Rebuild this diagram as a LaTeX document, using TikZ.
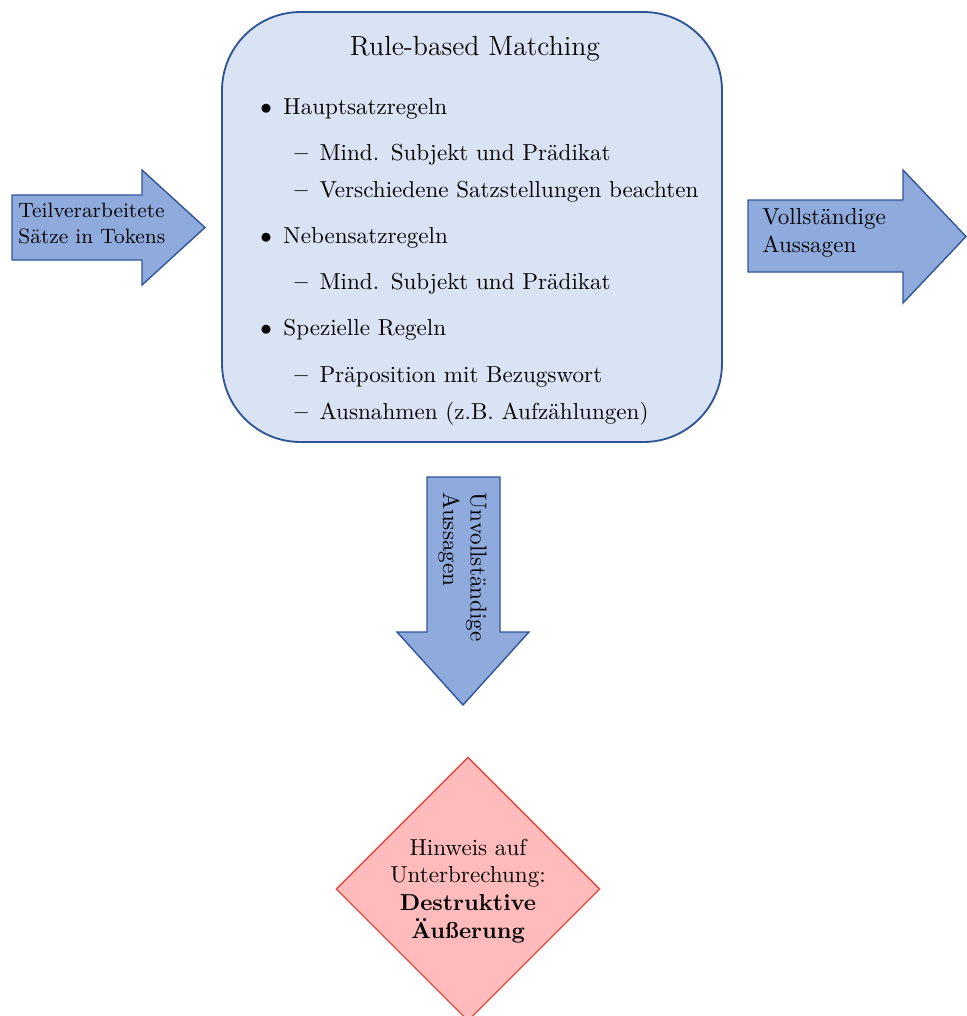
\documentclass[tikz,border=0pt]{standalone}
\usepackage{enumitem}
\usetikzlibrary{shapes.geometric}

\definecolor{boxfill}{RGB}{218,227,243}
\definecolor{boxline}{RGB}{47,85,151}
\definecolor{arrowfill}{RGB}{143,170,220}
\definecolor{arrowline}{RGB}{47,85,151}
\definecolor{warnfill}{RGB}{255,187,187}
\definecolor{warnline}{RGB}{222,75,65}

% list spacing inside the matching box
\setlist[itemize,1]{topsep=0pt,partopsep=0pt,parsep=0pt,itemsep=8pt,leftmargin=25pt,
  labelsep=5pt,label=$\bullet$}
\setlist[itemize,2]{topsep=8pt,partopsep=0pt,parsep=0pt,itemsep=4pt,leftmargin=15.6pt,
  labelsep=5pt,label=\normalfont\bfseries\textendash}

\tikzset{
  mainbox/.style={draw=boxline, fill=boxfill, line width=0.8pt,
    rounded corners=34pt, inner sep=0pt},
  flowarrow/.style={draw=arrowline, fill=arrowfill, line width=0.6pt, line join=miter},
  arrowtext/.style={inner sep=0pt, align=left},
  warnbox/.style={draw=warnline, fill=warnfill, line width=0.6pt,
    shape=diamond, aspect=1, inner sep=0pt},
}

\begin{document}
\begin{tikzpicture}[x=0.4329pt, y=-0.4329pt]
\useasboundingbox (0,0) rectangle (966,1016);

% central processing box
\node[mainbox, minimum width=216.45pt, minimum height=186.15pt] (rbm) at (472,227) {};
\node[anchor=base, inner sep=0pt] (title) at (475,55) {\large Rule-based Matching};
\node[anchor=north west, inner sep=0pt, text width=212pt] (rules) at (225.25,86) {%
\begin{itemize}
  \item Hauptsatzregeln
  \begin{itemize}
    \item Mind. Subjekt und Prädikat
    \item Verschiedene Satzstellungen beachten
  \end{itemize}
  \item Nebensatzregeln
  \begin{itemize}
    \item Mind. Subjekt und Prädikat
  \end{itemize}
  \item Spezielle Regeln
  \begin{itemize}
    \item Präposition mit Bezugswort
    \item Ausnahmen (z.B. Aufzählungen)
  \end{itemize}
\end{itemize}};

% input arrow (anchor sits on the last text line)
\draw[flowarrow] (12,195) -- (142,195) -- (142,170) -- (205,227.5) -- (142,285)
  -- (142,260) -- (12,260) -- cycle;
\node[arrowtext, anchor=base west, font=\small] (input) at (18,243)
  {Teilverarbeitete\\Sätze in Tokens};

% output arrow: complete statements
\draw[flowarrow] (748,200) -- (903,200) -- (903,170) -- (966,236.5) -- (903,303)
  -- (903,272) -- (748,272) -- cycle;
\node[arrowtext, anchor=base west] (complete) at (762,252)
  {Vollständige\\Aussagen};

% output arrow: incomplete statements
\draw[flowarrow] (427,477) -- (500,477) -- (500,632) -- (529,632) -- (463,705)
  -- (397,632) -- (427,632) -- cycle;
\node[arrowtext, rotate=-90, anchor=base west] (incomplete) at (443,492)
  {Unvollständige\\Aussagen};

% interruption hint
\node[warnbox, minimum width=114.3pt, minimum height=114.3pt] (hint) at (468,889) {};
\node[inner sep=0pt, align=center] (hinttext) at (468,891)
  {Hinweis auf\\Unterbrechung:\\\textbf{Destruktive}\\\textbf{Äußerung}};
\end{tikzpicture}
\end{document}
